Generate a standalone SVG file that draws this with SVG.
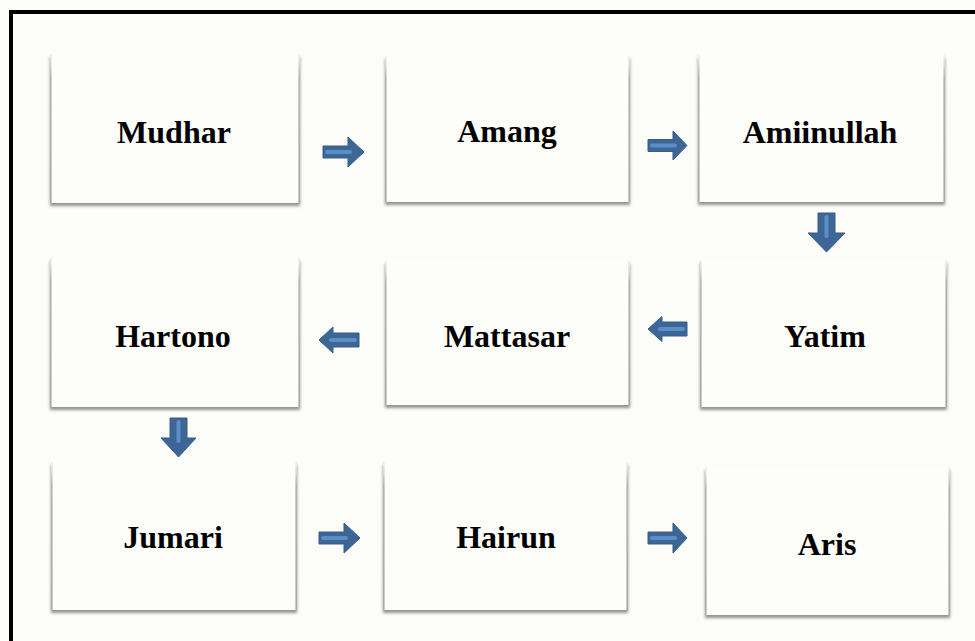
<svg xmlns="http://www.w3.org/2000/svg" width="975" height="641" viewBox="0 0 975 641">
  <defs>
    <filter id="shadow" x="-5%" y="-5%" width="110%" height="115%">
      <feDropShadow dx="0" dy="3" stdDeviation="1.6" flood-color="#6e6e6e" flood-opacity="0.75"/>
    </filter>
    <linearGradient id="side" x1="0" y1="0" x2="0" y2="1">
      <stop offset="0" stop-color="#c8c8c8" stop-opacity="0.3"/>
      <stop offset="0.15" stop-color="#b4b4b4"/>
      <stop offset="1" stop-color="#a8a8a8"/>
    </linearGradient>
  </defs>
  <style>
    .box { fill: #fdfdfa; filter: url(#shadow); }
    .edge { fill: none; stroke: url(#side); stroke-width: 1.6; }
    .lbl { font-family: "Liberation Serif", "Times New Roman", serif; font-weight: bold; font-size: 32px; fill: #000; text-anchor: middle; }
    .arr { fill: #3d6696; stroke: #375d8a; stroke-width: 1; stroke-linejoin: round; }
    .hl { fill: none; stroke: #5b8dc6; stroke-width: 4; stroke-linecap: round; }
  </style>
  <rect x="0" y="0" width="975" height="641" fill="#fcfcf8"/>
  <path d="M11,641 V12 H975" fill="none" stroke="#000" stroke-width="4"/>

  <g id="node-mudhar">
    <rect class="box" x="50" y="54" width="250" height="149"/>
    <path class="edge" d="M50.8,54 V203 M299.2,54 V203"/>
    <text class="lbl" x="174" y="143">Mudhar</text>
  </g>
  <g id="node-amang">
    <rect class="box" x="385" y="56" width="245" height="146"/>
    <path class="edge" d="M385.8,56 V202 M629.2,56 V202"/>
    <text class="lbl" x="507" y="142">Amang</text>
  </g>
  <g id="node-amiinullah">
    <rect class="box" x="698" y="55" width="247" height="147"/>
    <path class="edge" d="M698.8,55 V202 M944.2,55 V202"/>
    <text class="lbl" x="820" y="143">Amiinullah</text>
  </g>
  <g id="node-yatim">
    <rect class="box" x="700" y="260" width="247" height="147"/>
    <path class="edge" d="M700.8,260 V407 M946.2,260 V407"/>
    <text class="lbl" x="825" y="347">Yatim</text>
  </g>
  <g id="node-mattasar">
    <rect class="box" x="385" y="261" width="245" height="144"/>
    <path class="edge" d="M385.8,261 V405 M629.2,261 V405"/>
    <text class="lbl" x="507" y="347">Mattasar</text>
  </g>
  <g id="node-hartono">
    <rect class="box" x="50" y="258" width="250" height="149"/>
    <path class="edge" d="M50.8,258 V407 M299.2,258 V407"/>
    <text class="lbl" x="173" y="347">Hartono</text>
  </g>
  <g id="node-jumari">
    <rect class="box" x="51" y="462" width="246" height="148"/>
    <path class="edge" d="M51.8,462 V610 M296.2,462 V610"/>
    <text class="lbl" x="173" y="548">Jumari</text>
  </g>
  <g id="node-hairun">
    <rect class="box" x="383" y="462" width="245" height="148"/>
    <path class="edge" d="M383.8,462 V610 M627.2,462 V610"/>
    <text class="lbl" x="506" y="548">Hairun</text>
  </g>
  <g id="node-aris">
    <rect class="box" x="705" y="467" width="245" height="148"/>
    <path class="edge" d="M705.8,467 V615 M949.2,467 V615"/>
    <text class="lbl" x="827" y="555">Aris</text>
  </g>

  <g id="connectors">
    <!-- Mudhar -> Amang -->
    <polygon class="arr" points="323,146 348,146 348,137 364,152 348,167 348,158 323,158"/>
    <path class="hl" d="M327,152 H350"/>
    <!-- Amang -> Amiinullah -->
    <polygon class="arr" points="648,139.5 673,139.5 673,131 687,145.5 673,160 673,151.5 648,151.5"/>
    <path class="hl" d="M652,145.5 H675"/>
    <!-- Amiinullah -> Yatim -->
    <polygon class="arr" points="818,213 835,213 835,233 845,233 826.5,252 808,233 818,233"/>
    <path class="hl" d="M826.5,217 V236"/>
    <!-- Yatim -> Mattasar -->
    <polygon class="arr" points="687,322 662,322 662,316.5 648,329 662,341.5 662,336 687,336"/>
    <path class="hl" d="M683,329 H660"/>
    <!-- Mattasar -> Hartono -->
    <polygon class="arr" points="359,333 333,333 333,327 319,340 333,353 333,347 359,347"/>
    <path class="hl" d="M355,340 H331"/>
    <!-- Hartono -> Jumari -->
    <polygon class="arr" points="170,418 187,418 187,438 196,438 178.5,457 161,438 170,438"/>
    <path class="hl" d="M178.5,422 V441"/>
    <!-- Jumari -> Hairun -->
    <polygon class="arr" points="319,532 344,532 344,523 360,538 344,553 344,544 319,544"/>
    <path class="hl" d="M323,538 H346"/>
    <!-- Hairun -> Aris -->
    <polygon class="arr" points="648,532 673,532 673,523 687,538 673,553 673,544 648,544"/>
    <path class="hl" d="M652,538 H675"/>
  </g>
</svg>
